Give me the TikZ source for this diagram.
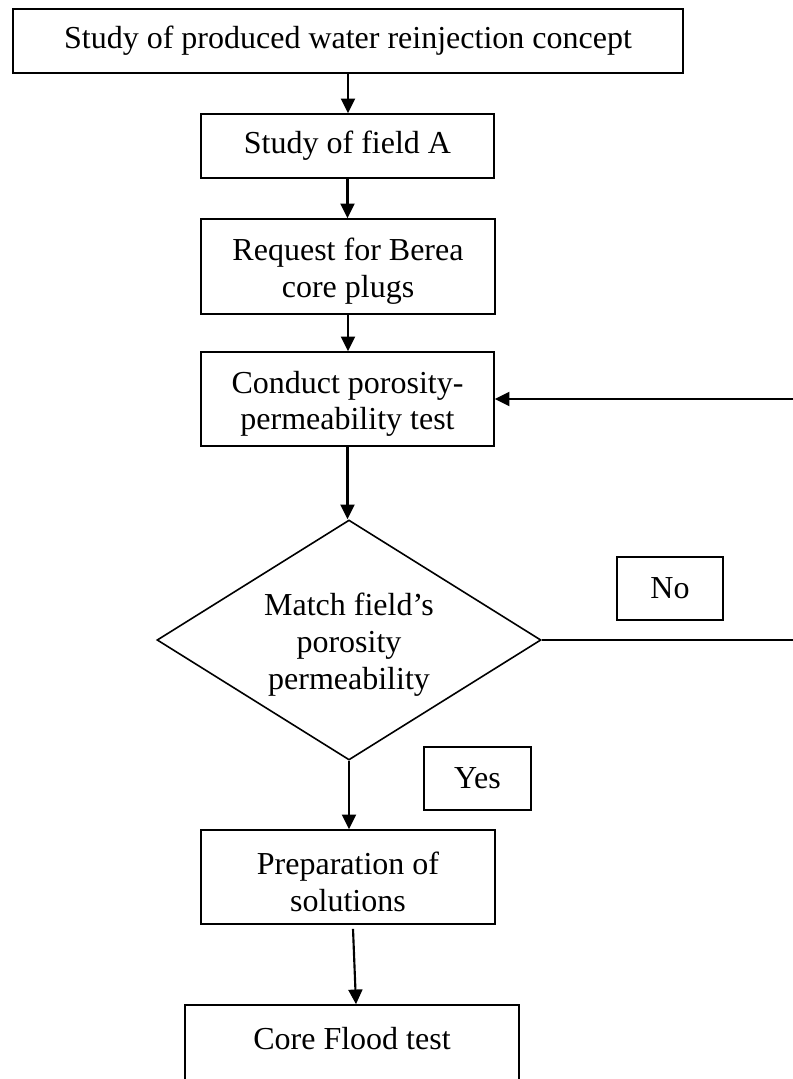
\documentclass[tikz,border=0pt]{standalone}
\usepackage{fontspec}
\setmainfont{Liberation Serif}
\usetikzlibrary{shapes.geometric,arrows.meta,calc}
\newcommand{\mystrut}{\rule{0pt}{24pt}}
\begin{document}
\begin{tikzpicture}[x=0.75pt,y=-0.75pt,
  every node/.style={font=\fontsize{24pt}{27.5pt}\selectfont},
  box/.style={draw,line width=1.2pt,inner sep=0pt,align=center},
  decision/.style={draw,diamond,line width=1.2pt,inner sep=0pt,align=center,aspect=1.6},
  arr/.style={line width=1.6pt,-{Triangle[length=11pt,width=10.5pt]}}]
\useasboundingbox (0,0) rectangle (793,1079);
\node[box,minimum width=670*0.75pt,minimum height=64*0.75pt] (top) at (348,41) {Study of produced water reinjection concept};
\node[box,minimum width=293*0.75pt,minimum height=64*0.75pt] (field) at (347.5,146) {Study of field A};
\node[box,minimum width=294*0.75pt,minimum height=95*0.75pt] (req) at (348,266.5) {\mystrut Request for Berea\\core plugs};
\node[box,minimum width=293*0.75pt,minimum height=94*0.75pt] (cond) at (347.5,399) {\mystrut Conduct porosity-\\permeability test};
\node[decision,minimum width=384*0.75pt,minimum height=240*0.75pt] (dia) at (349,640) {\mystrut Match field’s\\porosity\\permeability};
\node[box,minimum width=106*0.75pt,minimum height=63*0.75pt] (no) at (670,588.5) {No};
\node[box,minimum width=107*0.75pt,minimum height=63*0.75pt] (yes) at (477.5,778.5) {Yes};
\node[box,minimum width=294*0.75pt,minimum height=94*0.75pt] (prep) at (348,877) {\mystrut Preparation of\\solutions};
\node[box,minimum width=334*0.75pt,minimum height=84*0.75pt,text depth=13.5pt] (core) at (352,1047) {Core Flood test};
\coordinate (rb) at (797,640);
\coordinate (rt) at (797,399);
\draw[arr] (top.south) -- (top.south |- field.north);
\draw[arr] (field.south) -- (field.south |- req.north);
\draw[arr] (req.south) -- (req.south |- cond.north);
\draw[arr] (cond.south) -- (cond.south |- dia.north);
\draw[arr] (dia.south) -- (dia.south |- prep.north);
\draw[arr] ($(prep.south)+(5,4)$) -- ($(core.north)+(4,0)$);
\draw[arr] (dia.east) -- (rb) -- (rt) -- (cond.east);
\end{tikzpicture}
\end{document}
